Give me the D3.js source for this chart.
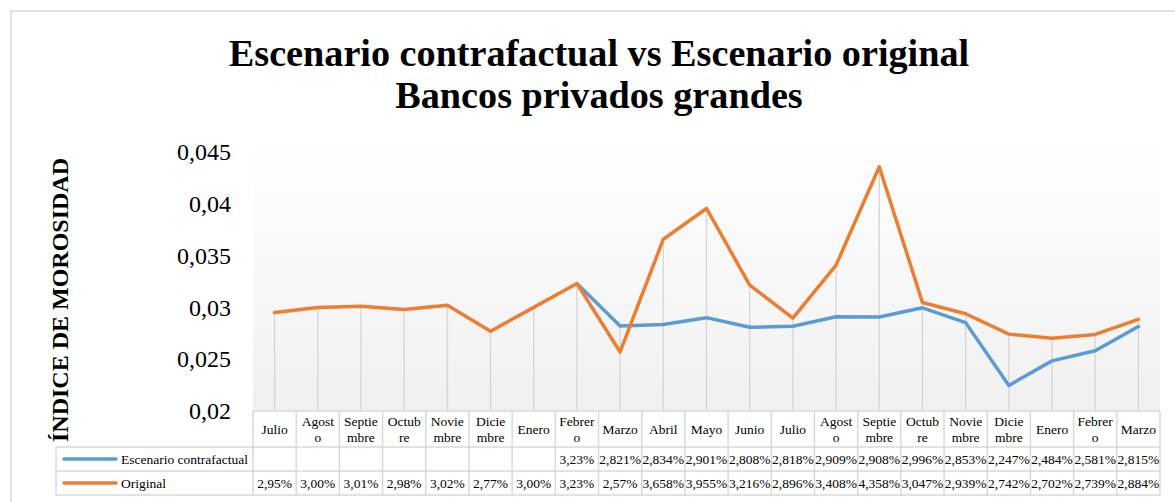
<!DOCTYPE html>
<html>
<head>
<meta charset="utf-8">
<script src="https://cdn.jsdelivr.net/npm/d3@7"></script>
<style>
  html, body { margin: 0; padding: 0; background: #fff; }
  svg { display: block; }
  text { font-family: "Liberation Serif", "Times New Roman", serif; }
</style>
</head>
<body>
<svg id="chart" width="1175" height="502"></svg>
<script>
// Monthly periods (label lines as they wrap inside the data-table cells)
const categories = [
  ["Julio"], ["Agost", "o"], ["Septie", "mbre"], ["Octub", "re"], ["Novie", "mbre"],
  ["Dicie", "mbre"], ["Enero"], ["Febrer", "o"], ["Marzo"], ["Abril"], ["Mayo"],
  ["Junio"], ["Julio"], ["Agost", "o"], ["Septie", "mbre"], ["Octub", "re"],
  ["Novie", "mbre"], ["Dicie", "mbre"], ["Enero"], ["Febrer", "o"], ["Marzo"]
];

// Delinquency index, in percent (null = no value for that month)
const contrafactual = [
  null, null, null, null, null, null, null,
  3.23, 2.821, 2.834, 2.901, 2.808, 2.818, 2.909, 2.908, 2.996, 2.853, 2.247, 2.484, 2.581, 2.815
];
const original = [
  2.95, 3.00, 3.01, 2.98, 3.02, 2.77, 3.00, 3.23, 2.57, 3.658, 3.955,
  3.216, 2.896, 3.408, 4.358, 3.047, 2.939, 2.742, 2.702, 2.739, 2.884
];
// Decimals shown in the table for each month
const decimals = [2, 2, 2, 2, 2, 2, 2, 2, 3, 3, 3, 3, 3, 3, 3, 3, 3, 3, 3, 3, 3];
const originalDecimals = [2, 2, 2, 2, 2, 2, 2, 2, 2, 3, 3, 3, 3, 3, 3, 3, 3, 3, 3, 3, 3];

const yTicks = [0.02, 0.025, 0.03, 0.035, 0.04, 0.045];

const seriesNames = ["Escenario contrafactual", "Original"];
const seriesColors = ["#5b9bd5", "#ed7d31"];

const serif = '"Liberation Serif", "Times New Roman", serif';
const svg = d3.select("#chart");

// Layout
const plot = { left: 253, right: 1160, top: 140, bottom: 411 };
const rows = { header: [411, 447], s1: [447, 471], s2: [471, 495] };
const legendLeft = 56;

const x = d3.scaleBand()
  .domain(d3.range(categories.length))
  .range([plot.left, plot.right])
  .padding(0);
const cx = i => x(i) + x.bandwidth() / 2;

const y = d3.scaleLinear().domain([0.02, 0.045]).range([411, 152]);

// Outer chart frame
svg.append("rect")
  .attr("x", 11).attr("y", 11).attr("width", 1200).attr("height", 520)
  .attr("fill", "#fff").attr("stroke", "#d9d9d9").attr("stroke-width", 1.5);

// Title
const title = svg.append("text")
  .attr("text-anchor", "middle")
  .attr("font-weight", "bold")
  .attr("font-size", 38.2)
  .attr("fill", "#000");
title.append("tspan").attr("x", 599).attr("y", 66).text("Escenario contrafactual vs Escenario original");
title.append("tspan").attr("x", 599).attr("y", 108).text("Bancos privados grandes");

// Plot area with a soft vertical gradient
const defs = svg.append("defs");
const grad = defs.append("linearGradient")
  .attr("id", "plotFill").attr("x1", 0).attr("y1", 0).attr("x2", 0).attr("y2", 1);
grad.append("stop").attr("offset", "0%").attr("stop-color", "#ffffff");
grad.append("stop").attr("offset", "100%").attr("stop-color", "#f0f0f0");

svg.append("rect")
  .attr("x", plot.left).attr("y", plot.top)
  .attr("width", plot.right - plot.left).attr("height", plot.bottom - plot.top)
  .attr("fill", "url(#plotFill)");

// Y axis labels
const yAxis = d3.axisLeft(y)
  .tickValues(yTicks)
  .tickSize(0)
  .tickPadding(0)
  .tickFormat(d => String(+d.toFixed(3)).replace(".", ","));
const yG = svg.append("g").attr("transform", "translate(231,0)").call(yAxis);
yG.attr("font-family", null).attr("font-size", null);
yG.select(".domain").remove();
yG.selectAll("text")
  .style("font-family", serif)
  .style("font-size", "24px")
  .attr("fill", "#000");

// Y axis title
svg.append("text")
  .attr("transform", "translate(68,300) rotate(-90)")
  .attr("text-anchor", "middle")
  .attr("font-weight", "bold")
  .attr("font-size", 24)
  .attr("fill", "#000")
  .text("ÍNDICE DE MOROSIDAD");

// Drop lines from the highest value of each month down to the axis
const maxVals = categories.map((c, i) => d3.max([contrafactual[i], original[i]].filter(v => v != null)) / 100);
svg.append("g").selectAll("line")
  .data(maxVals)
  .join("line")
  .attr("x1", (d, i) => cx(i)).attr("x2", (d, i) => cx(i))
  .attr("y1", d => y(d)).attr("y2", plot.bottom)
  .attr("stroke", "#d9d9d9").attr("stroke-width", 1.5);

// Series lines
const line = d3.line()
  .defined(d => d != null)
  .x((d, i) => cx(i))
  .y(d => y(d / 100));

[contrafactual, original].forEach((vals, k) => {
  svg.append("path")
    .datum(vals)
    .attr("d", line)
    .attr("fill", "none")
    .attr("stroke", seriesColors[k])
    .attr("stroke-width", 3.5)
    .attr("stroke-linejoin", "round")
    .attr("stroke-linecap", "round");
});

// Data table
const grid = svg.append("g")
  .attr("stroke", "#d9d9d9").attr("stroke-width", 1.5).attr("fill", "none");

// Horizontal rules
grid.append("line").attr("x1", plot.left).attr("x2", plot.right).attr("y1", rows.header[0]).attr("y2", rows.header[0]);
[rows.s1[0], rows.s2[0], rows.s2[1]].forEach(yy => {
  grid.append("line").attr("x1", legendLeft).attr("x2", plot.right).attr("y1", yy).attr("y2", yy);
});
// Vertical rules
const colEdges = d3.range(categories.length + 1).map(i => i < categories.length ? x(i) : plot.right);
colEdges.forEach(xx => {
  grid.append("line").attr("x1", xx).attr("x2", xx).attr("y1", rows.header[0]).attr("y2", rows.s2[1]);
});
grid.append("line").attr("x1", legendLeft).attr("x2", legendLeft).attr("y1", rows.s1[0]).attr("y2", rows.s2[1]);

// Category header cells
const header = svg.append("g").attr("font-size", 13.5).attr("fill", "#000").attr("text-anchor", "middle");
categories.forEach((lines, i) => {
  const t = header.append("text").attr("x", cx(i));
  if (lines.length === 1) {
    t.append("tspan").attr("x", cx(i)).attr("y", 434).text(lines[0]);
  } else {
    t.append("tspan").attr("x", cx(i)).attr("y", 426).text(lines[0]);
    t.append("tspan").attr("x", cx(i)).attr("y", 442).text(lines[1]);
  }
});

// Value cells
const fmt = (v, dec) => v == null ? "" : v.toFixed(dec).replace(".", ",") + "%";
const vals = svg.append("g").attr("font-size", 13.5).attr("fill", "#000").attr("text-anchor", "middle");
contrafactual.forEach((v, i) => {
  vals.append("text").attr("x", cx(i)).attr("y", 464).text(fmt(v, decimals[i]));
});
original.forEach((v, i) => {
  vals.append("text").attr("x", cx(i)).attr("y", 488).text(fmt(v, originalDecimals[i]));
});

// Legend keys in the table
seriesNames.forEach((name, k) => {
  const yy = k === 0 ? 459 : 483;
  svg.append("line")
    .attr("x1", 64).attr("x2", 116).attr("y1", yy).attr("y2", yy)
    .attr("stroke", seriesColors[k]).attr("stroke-width", 3.5).attr("stroke-linecap", "round");
  svg.append("text")
    .attr("x", 121).attr("y", yy + 5)
    .attr("font-size", 13.5).attr("fill", "#000")
    .text(name);
});
</script>
</body>
</html>
